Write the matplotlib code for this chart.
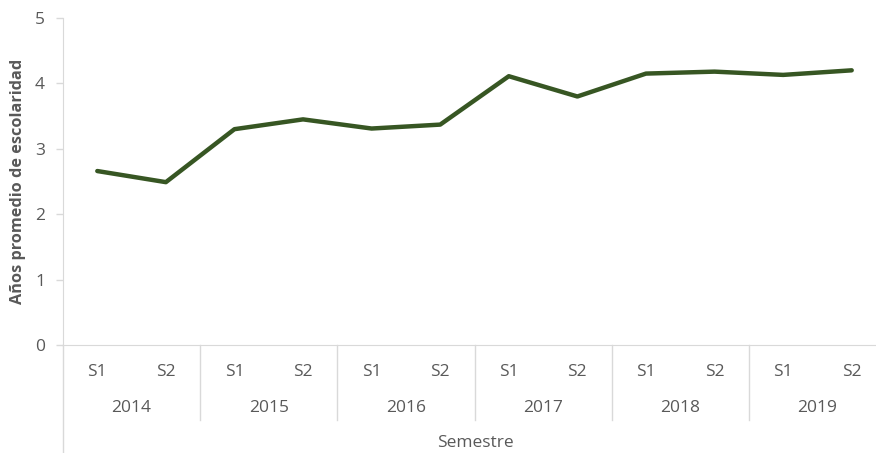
import matplotlib
matplotlib.use("Agg")
from matplotlib import pyplot as plt
from matplotlib.transforms import blended_transform_factory
import numpy as np

years = ['2014', '2015', '2016', '2017', '2018', '2019']
semesters = ['S1', 'S2']
values = [2.66, 2.49, 3.30, 3.45, 3.31, 3.37, 4.11, 3.80, 4.15, 4.18, 4.13, 4.20]

gray = '#595959'
light = '#D9D9D9'
plt.rcParams['font.family'] = ['Open Sans', 'DejaVu Sans']

fig = plt.figure(figsize=(8.76, 4.53), dpi=100)
# plot area runs a little past the right edge, like the original
ax = fig.add_axes([63/876, 108/453, 823/876, 327/453])

x = np.arange(len(values))
ax.plot(x, values, color='#375623', linewidth=3.2, solid_capstyle='round', solid_joinstyle='round')

ax.set_xlim(-0.5, len(values) - 0.5)
ax.set_ylim(0, 5)
ax.set_yticks(range(6))
ax.tick_params(axis='y', colors=light, labelcolor=gray, labelsize=12.5, length=5, width=1, pad=8)

ax.set_xticks(x)
ax.set_xticklabels(semesters * len(years))
ax.tick_params(axis='x', length=0, labelcolor=gray, labelsize=12.5, pad=14)

for s in ['top', 'right']:
    ax.spines[s].set_visible(False)
ax.spines['left'].set_color(light)
ax.spines['bottom'].set_color(light)

tr = blended_transform_factory(ax.transData, ax.transAxes)
for i, yr in enumerate(years):
    ax.text(2 * i + 0.5, -0.193, yr, transform=tr, ha='center', va='center',
            color=gray, fontsize=12.5)
    if i > 0:
        ax.plot([2 * i - 0.5, 2 * i - 0.5], [0, -0.23], transform=tr, color=light,
                linewidth=1, clip_on=False)
# left axis reaches the bottom of the picture
ax.plot([0, 0], [0, -0.33], transform=ax.transAxes, color=light, linewidth=1, clip_on=False)

fig.text(475/876, 1 - 443/453, 'Semestre', ha='center', va='center', color=gray, fontsize=12.5)
fig.text(18/876, 1 - 181/453, 'Años promedio de escolaridad', ha='center', va='center',
         rotation=90, color=gray, fontsize=11.7, fontweight='bold')

fig.savefig('out.png', dpi=100)
